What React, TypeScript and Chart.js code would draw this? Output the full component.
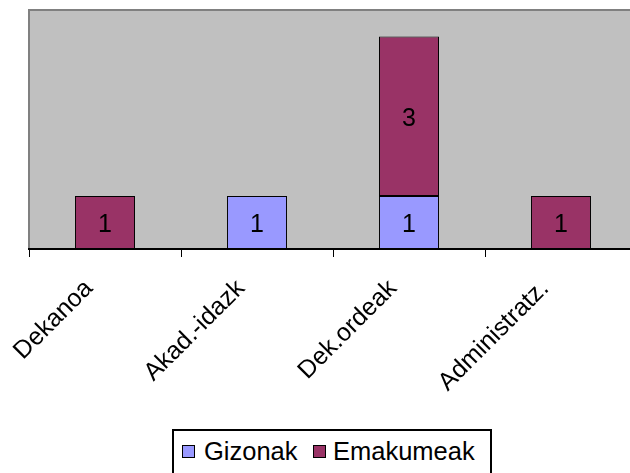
import React, { useEffect, useRef } from "react";
import { Chart, registerables } from "chart.js";

Chart.register(...registerables);

const categories = ["Dekanoa", "Akad.-idazk", "Dek.ordeak", "Administratz."];
const gizonak = [0, 1, 1, 0];
const emakumeak = [1, 0, 3, 1];
const seriesNames = ["Gizonak", "Emakumeak"];
const seriesColors = ["#9999FF", "#993366"];
const yMax = 4.5;

const FONT = "Liberation Sans, Arial, sans-serif";

const plotBgPlugin = {
  id: "plotBg",
  beforeDraw(chart: any) {
    const { ctx, chartArea } = chart;
    const { left, top, right, bottom } = chartArea;
    ctx.save();
    ctx.fillStyle = "#C0C0C0";
    ctx.fillRect(left, top, right - left, bottom - top);
    ctx.strokeStyle = "#808080";
    ctx.lineWidth = 2;
    ctx.beginPath();
    ctx.moveTo(left, bottom);
    ctx.lineTo(left, top);
    ctx.lineTo(right, top);
    ctx.lineTo(right, bottom);
    ctx.stroke();
    ctx.restore();
  },
};

const valueLabelPlugin = {
  id: "valueLabels",
  afterDatasetsDraw(chart: any) {
    const { ctx } = chart;
    ctx.save();
    ctx.font = `25px ${FONT}`;
    ctx.fillStyle = "#000";
    ctx.textAlign = "center";
    ctx.textBaseline = "middle";
    chart.data.datasets.forEach((ds: any, di: number) => {
      const meta = chart.getDatasetMeta(di);
      meta.data.forEach((el: any, i: number) => {
        const v = ds.data[i];
        if (v == null || v === 0) return;
        ctx.fillText(String(v), el.x, (el.y + el.base) / 2 + 2.5);
      });
    });
    ctx.restore();
  },
};

export default function App() {
  const ref = useRef<HTMLCanvasElement>(null);
  useEffect(() => {
    if (!ref.current) return;
    const chart = new Chart(ref.current, {
      type: "bar",
      data: {
        labels: categories,
        datasets: [
          {
            label: seriesNames[0],
            data: gizonak.map((v) => (v ? v : null)),
            backgroundColor: seriesColors[0],
            borderColor: "#000",
            borderWidth: 1,
            borderSkipped: false,
            categoryPercentage: 0.395,
            barPercentage: 1,
          },
          {
            label: seriesNames[1],
            data: emakumeak.map((v) => (v ? v : null)),
            backgroundColor: seriesColors[1],
            borderColor: "#000",
            borderWidth: 1,
            borderSkipped: false,
            categoryPercentage: 0.395,
            barPercentage: 1,
          },
        ],
      },
      options: {
        responsive: false,
        animation: false,
        devicePixelRatio: 1,
        layout: { padding: { left: 29, right: 3, top: 10, bottom: 0 } },
        plugins: {
          legend: { display: false },
          tooltip: { enabled: false },
        },
        scales: {
          x: {
            stacked: true,
            offset: true,
            grid: {
              offset: true,
              drawOnChartArea: false,
              drawTicks: true,
              tickLength: 8,
              color: "#000",
              lineWidth: 1,
            },
            border: { display: true, color: "#000", width: 2 },
            ticks: {
              autoSkip: false,
              minRotation: 45,
              maxRotation: 45,
              padding: 17,
              labelOffset: -16,
              color: "#000",
              font: { family: FONT, size: 25 },
            },
            afterFit(scale: any) {
              scale.height = 224;
              scale.paddingLeft = 0;
              scale.paddingRight = 0;
            },
          },
          y: {
            stacked: true,
            display: false,
            min: 0,
            max: yMax,
          },
        },
      },
      plugins: [plotBgPlugin, valueLabelPlugin],
    });
    return () => chart.destroy();
  }, []);

  const txt: React.CSSProperties = {
    position: "absolute",
    top: 7.8,
    fontFamily: FONT,
    fontSize: "25.5px",
    lineHeight: "25px",
    color: "#000",
    whiteSpace: "nowrap",
  };
  const sq = (c: string, left: number): React.CSSProperties => ({
    position: "absolute",
    left,
    top: 14,
    width: 13,
    height: 13,
    boxSizing: "border-box",
    border: "1px solid #000",
    background: c,
  });

  return (
    <div
      style={{
        position: "absolute",
        left: 0,
        top: 0,
        width: 630,
        height: 473,
        overflow: "hidden",
        background: "#fff",
      }}
    >
      <canvas ref={ref} width={640} height={473} style={{ display: "block" }} />
      <div
        style={{
          position: "absolute",
          left: 172,
          top: 429,
          width: 320,
          height: 60,
          boxSizing: "border-box",
          border: "2px solid #000",
          background: "#fff",
        }}
      >
        <div style={sq(seriesColors[0], 8)} />
        <span style={{ ...txt, left: 30 }}>{seriesNames[0]}</span>
        <div style={sq(seriesColors[1], 139)} />
        <span style={{ ...txt, left: 159 }}>{seriesNames[1]}</span>
      </div>
    </div>
  );
}
